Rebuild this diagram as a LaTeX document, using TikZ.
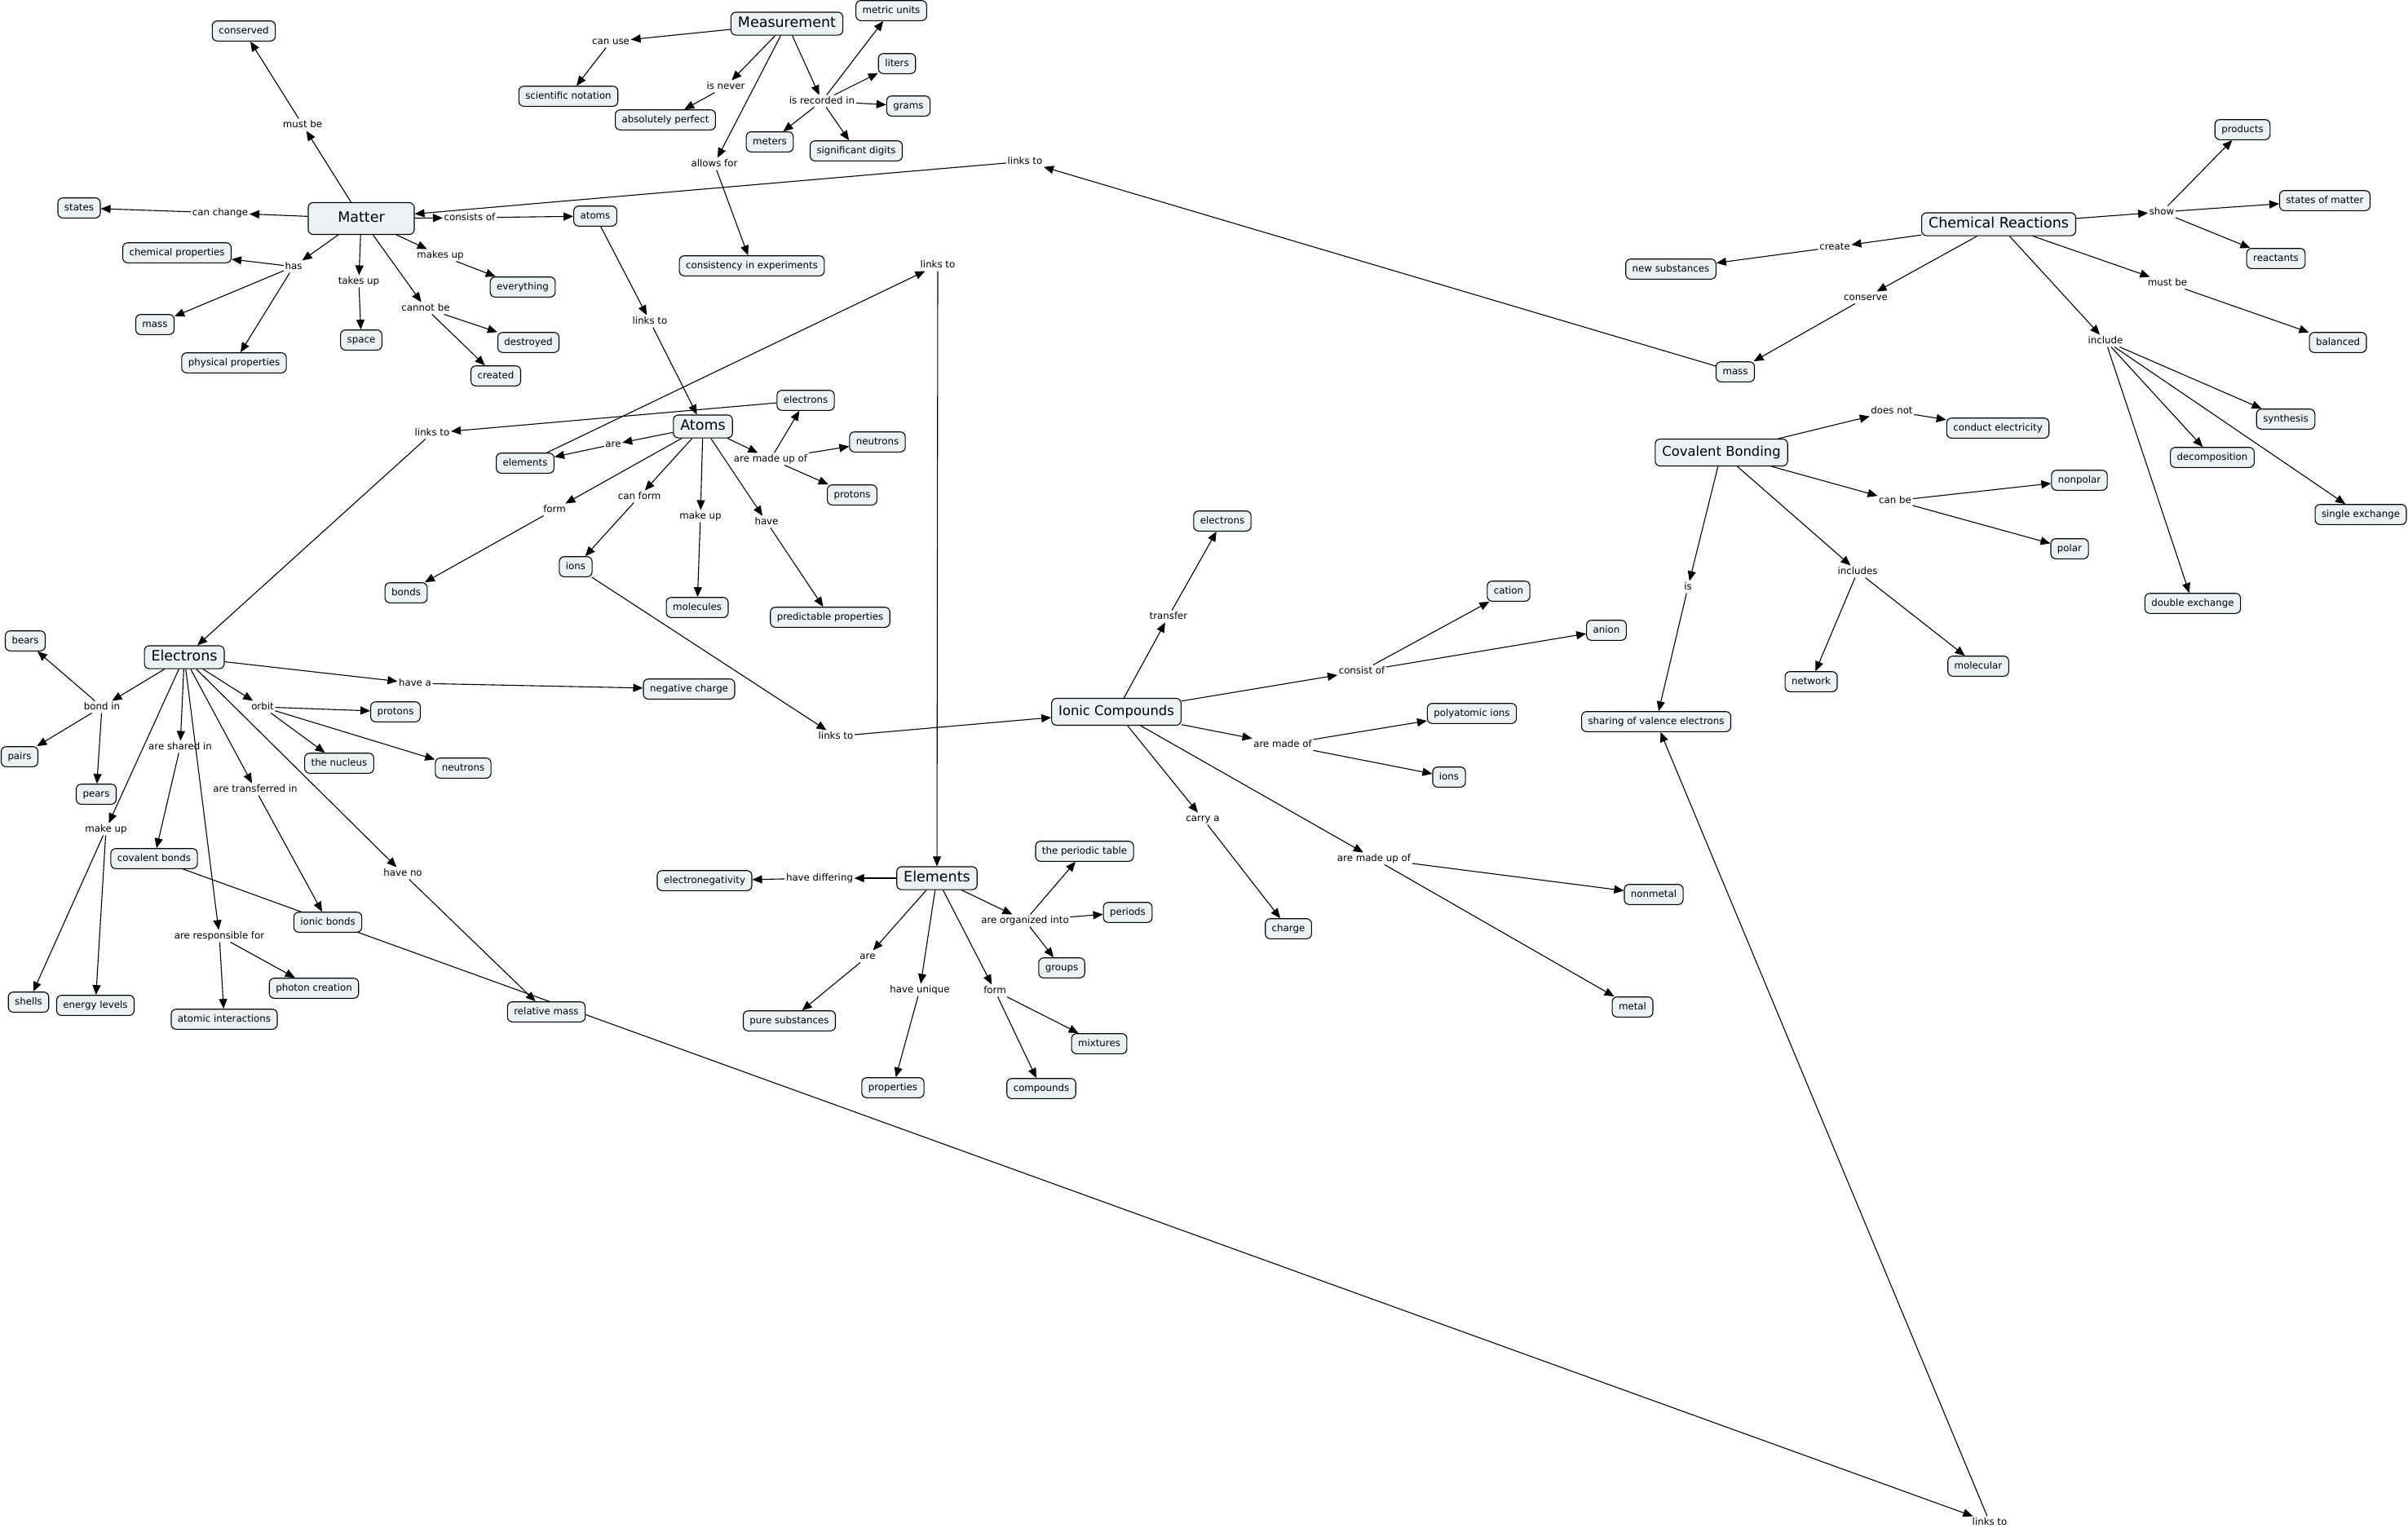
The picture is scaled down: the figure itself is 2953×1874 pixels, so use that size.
\documentclass[tikz,border=0pt]{standalone}
\usepackage{fontspec}
\setmainfont{DejaVu Sans}
\usetikzlibrary{arrows.meta,backgrounds}
\definecolor{cfill}{RGB}{236,242,244}
\tikzset{
  concept/.style={draw, rounded corners=6pt, fill=cfill, line width=1.1pt,
    font=\fontsize{11.8}{14}\selectfont, inner xsep=8pt, inner ysep=6.5pt,
    text height=9pt, text depth=2.6pt},
  big/.style={concept, font=\fontsize{17.5}{20}\selectfont, inner xsep=8.5pt,
    inner ysep=5.5pt, text height=13.3pt, text depth=3.8pt},
  bigb/.style={big, font=\fontsize{16.4}{19}\selectfont, minimum height=33pt},
  lab/.style={font=\fontsize{11.8}{14}\selectfont, inner sep=1.5pt,
    text height=9pt, text depth=2.6pt},
  arr/.style={-{Triangle[length=12pt,width=10pt]}, line width=1.1pt},
}
\begin{document}
\begin{tikzpicture}[x=1pt,y=-1pt]
\useasboundingbox (0,0) rectangle (2953,1874);
% ---------- Matter ----------
\node[big, minimum width=130pt, minimum height=39pt] (matter) at (443,268) {Matter};
\node[concept] (conserved) at (299,38) {conserved};
\node[lab] (mustbe) at (371,153) {must be};
\node[concept] (states) at (97,255) {states};
\node[lab] (canchange) at (270,261) {can change};
\node[lab] (consistsof) at (576,267) {consists of};
\node[concept] (atomsA) at (730,265) {atoms};
\node[concept] (chemprop) at (217,310) {chemical properties};
\node[lab] (has) at (360,327) {has};
\node[concept] (massA) at (190,398) {mass};
\node[concept] (physprop) at (287,445) {physical properties};
\node[lab] (takesup) at (440,345) {takes up};
\node[concept] (space) at (443,417) {space};
\node[lab] (makesup) at (540,313) {makes up};
\node[concept] (everything) at (641,352) {everything};
\node[lab] (cannotbe) at (522,378) {cannot be};
\node[concept] (destroyed) at (648,420) {destroyed};
\node[concept] (created) at (608,461) {created};
\node[lab] (ltA) at (797,394) {links to};
\node[lab] (ltTop) at (1257,198) {links to};
% ---------- Measurement ----------
\node[big] (meas) at (965,29) {Measurement};
\node[lab] (canuse) at (749,51) {can use};
\node[concept] (scinot) at (697,118) {scientific notation};
\node[lab] (isnever) at (890,106) {is never};
\node[concept] (absperf) at (816,147) {absolutely perfect};
\node[lab] (isrec) at (1008,124) {is recorded in};
\node[concept] (meters) at (944,174) {meters};
\node[concept] (sigdig) at (1050,185) {significant digits};
\node[concept] (metric) at (1093,13) {metric units};
\node[concept] (liters) at (1100,78) {liters};
\node[concept] (grams) at (1114,130) {grams};
\node[lab] (allowsfor) at (876,201) {allows for};
\node[concept] (consist) at (922,326) {consistency in experiments};
% ---------- Atoms ----------
\node[concept] (elecA) at (988,491) {electrons};
\node[big] (atoms) at (862,523) {Atoms};
\node[lab] (ltB) at (530,531) {links to};
\node[lab] (areA) at (752,545) {are};
\node[concept] (elements) at (644,568) {elements};
\node[concept] (neutA) at (1076,542) {neutrons};
\node[lab] (aremadeupof) at (945,563) {are made up of};
\node[concept] (protA) at (1045,607) {protons};
\node[lab] (formA) at (680,625) {form};
\node[lab] (canform) at (784,609) {can form};
\node[lab] (makeupA) at (859,633) {make up};
\node[lab] (haveA) at (940,640) {have};
\node[concept] (ionsA) at (706,695) {ions};
\node[concept] (bonds) at (498,727) {bonds};
\node[concept] (molecules) at (855,745) {molecules};
\node[concept] (predprop) at (1018,757) {predictable properties};
\node[lab] (ltC) at (1025,903) {links to};
\node[lab] (ltD) at (1150,325) {links to};
% ---------- Electrons ----------
\node[concept] (bears) at (31,786) {bears};
\node[big] (electrons) at (226,806) {Electrons};
\node[lab] (havea) at (509,838) {have a};
\node[concept] (negcharge) at (845,845) {negative charge};
\node[lab] (bondin) at (125,867) {bond in};
\node[lab] (orbit) at (322,867) {orbit};
\node[concept] (protE) at (485,873) {protons};
\node[concept] (pairs) at (24,928) {pairs};
\node[lab] (aresharedin) at (221,916) {are shared in};
\node[concept] (nucleus) at (416,936) {the nucleus};
\node[concept] (neutE) at (568,942) {neutrons};
\node[concept] (pears) at (118,974) {pears};
\node[lab] (makeupE) at (130,1017) {make up};
\node[lab] (aretrans) at (313,968) {are transferred in};
\node[concept] (covbonds) at (189,1053) {covalent bonds};
\node[lab] (haveno) at (494,1071) {have no};
\node[concept] (ionicbonds) at (402,1131) {ionic bonds};
\node[lab] (areresp) at (269,1148) {are responsible for};
\node[concept] (photon) at (385,1212) {photon creation};
\node[concept] (shells) at (35,1229) {shells};
\node[concept] (energy) at (117,1233) {energy levels};
\node[concept] (atomic) at (275,1250) {atomic interactions};
\node[concept] (relmass) at (670,1241) {relative mass};
\node[lab] (ltE) at (2440,1867) {links to};
% ---------- Elements ----------
\node[big] (elemB) at (1149,1077) {Elements};
\node[lab] (havediff) at (1005,1077) {have differing};
\node[concept] (electroneg) at (864,1080) {electronegativity};
\node[lab] (areE) at (1064,1173) {are};
\node[concept] (puresub) at (968,1252) {pure substances};
\node[lab] (haveunique) at (1128,1214) {have unique};
\node[concept] (properties) at (1095,1334) {properties};
\node[lab] (formE) at (1220,1215) {form};
\node[concept] (mixtures) at (1348,1280) {mixtures};
\node[concept] (compounds) at (1277,1335) {compounds};
\node[lab] (areorg) at (1257,1129) {are organized into};
\node[concept] (pertable) at (1330,1044) {the periodic table};
\node[concept] (periods) at (1383,1119) {periods};
\node[concept] (groups) at (1302,1187) {groups};
% ---------- Ionic Compounds ----------
\node[bigb] (ionic) at (1369,873) {Ionic Compounds};
\node[lab] (transfer) at (1433,756) {transfer};
\node[concept] (elecI) at (1499,639) {electrons};
\node[lab] (consistof) at (1670,823) {consist of};
\node[concept] (cation) at (1850,725) {cation};
\node[concept] (anion) at (1970,773) {anion};
\node[lab] (aremadeof) at (1573,913) {are made of};
\node[concept] (polyions) at (1805,875) {polyatomic ions};
\node[concept] (ionsI) at (1777,953) {ions};
\node[lab] (carrya) at (1475,1004) {carry a};
\node[concept] (charge) at (1580,1139) {charge};
\node[lab] (aremadeupofI) at (1685,1053) {are made up of};
\node[concept] (nonmetal) at (2028,1097) {nonmetal};
\node[concept] (metal) at (2002,1235) {metal};
% ---------- Chemical Reactions ----------
\node[big] (chem) at (2451,275) {Chemical Reactions};
\node[lab] (show) at (2651,260) {show};
\node[concept] (products) at (2750,159) {products};
\node[concept] (statesmatter) at (2851,246) {states of matter};
\node[concept] (reactants) at (2791,317) {reactants};
\node[lab] (create) at (2250,303) {create};
\node[concept] (newsub) at (2049,330) {new substances};
\node[lab] (conserve) at (2288,365) {conserve};
\node[concept] (massC) at (2128,456) {mass};
\node[lab] (mustbeC) at (2658,347) {must be};
\node[concept] (balanced) at (2867,420) {balanced};
\node[lab] (include) at (2582,418) {include};
\node[concept] (synthesis) at (2803,514) {synthesis};
\node[concept] (decomp) at (2713,561) {decomposition};
\node[concept] (single) at (2895,631) {single exchange};
\node[concept] (double) at (2689,740) {double exchange};
% ---------- Covalent Bonding ----------
\node[bigb] (cov) at (2111,555) {Covalent Bonding};
\node[lab] (doesnot) at (2320,504) {does not};
\node[concept] (conduct) at (2450,525) {conduct electricity};
\node[lab] (canbe) at (2324,614) {can be};
\node[concept] (nonpolar) at (2550,589) {nonpolar};
\node[concept] (polar) at (2538,673) {polar};
\node[lab] (includes) at (2278,701) {includes};
\node[concept] (network) at (2221,836) {network};
\node[concept] (molecular) at (2426,817) {molecular};
\node[lab] (isC) at (2070,720) {is};
\node[concept] (sharing) at (2031,885) {sharing of valence electrons};
% ---------- connectors ----------
\begin{pgfonlayer}{background}
\fill[white] (0,0) rectangle (2953,1874);
\foreach \a/\b in {
  matter/mustbe, mustbe/conserved, matter/canchange, canchange/states,
  matter/consistsof, consistsof/atomsA, massC/ltTop, ltTop/matter,
  matter/has, has/chemprop, has/massA, has/physprop,
  matter/takesup, takesup/space, matter/makesup, makesup/everything,
  matter/cannotbe, cannotbe/destroyed, cannotbe/created,
  meas/canuse, canuse/scinot, meas/isnever, isnever/absperf,
  meas/isrec, isrec/metric, isrec/liters, isrec/grams, isrec/meters, isrec/sigdig,
  meas/allowsfor, allowsfor/consist,
  atomsA/ltA, ltA/atoms, elements/ltD, ltD/elemB,
  atoms/areA, areA/elements, elecA/ltB, ltB/electrons,
  atoms/aremadeupof, aremadeupof/elecA, aremadeupof/neutA, aremadeupof/protA,
  atoms/formA, formA/bonds, atoms/canform, canform/ionsA,
  atoms/makeupA, makeupA/molecules, atoms/haveA, haveA/predprop,
  ionsA/ltC, ltC/ionic,
  electrons/havea, havea/negcharge,
  electrons/bondin, bondin/bears, bondin/pairs, bondin/pears,
  electrons/orbit, orbit/protE, orbit/nucleus, orbit/neutE,
  electrons/aresharedin, aresharedin/covbonds,
  electrons/makeupE, makeupE/shells, makeupE/energy,
  electrons/aretrans, aretrans/ionicbonds,
  electrons/areresp, areresp/atomic, areresp/photon,
  electrons/haveno, haveno/relmass,
  covbonds/ltE, ltE/sharing,
  elemB/havediff, havediff/electroneg,
  elemB/areE, areE/puresub, elemB/haveunique, haveunique/properties,
  elemB/formE, formE/mixtures, formE/compounds,
  elemB/areorg, areorg/pertable, areorg/periods, areorg/groups,
  ionic/transfer, transfer/elecI, ionic/consistof, consistof/cation, consistof/anion,
  ionic/aremadeof, aremadeof/polyions, aremadeof/ionsI,
  ionic/carrya, carrya/charge,
  ionic/aremadeupofI, aremadeupofI/nonmetal, aremadeupofI/metal,
  chem/show, show/products, show/statesmatter, show/reactants,
  chem/create, create/newsub, chem/conserve, conserve/massC,
  chem/mustbeC, mustbeC/balanced,
  chem/include, include/synthesis, include/decomp, include/single, include/double,
  cov/doesnot, doesnot/conduct, cov/canbe, canbe/nonpolar, canbe/polar,
  cov/includes, includes/network, includes/molecular,
  cov/isC, isC/sharing}
  \draw[arr] (\a) -- (\b);
\end{pgfonlayer}
\end{tikzpicture}
\end{document}
